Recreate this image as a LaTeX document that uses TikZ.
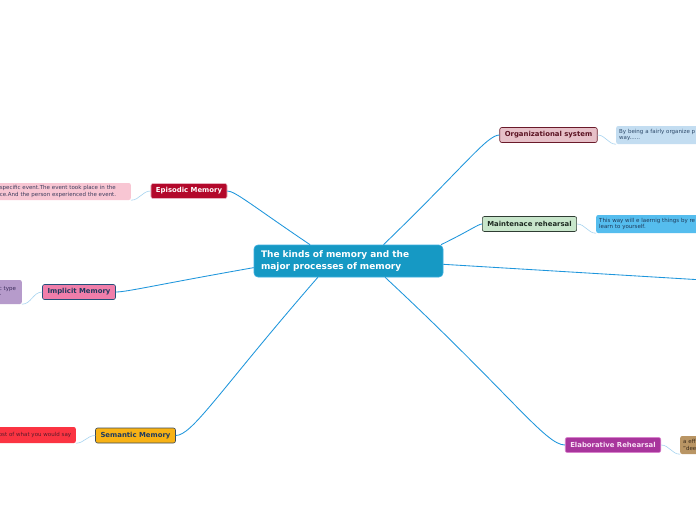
\documentclass[tikz,border=0pt]{standalone}
\usepackage{fontspec}
\setmainfont{DejaVu Sans}
\usetikzlibrary{positioning}
\definecolor{rootblue}{HTML}{1699C4}
\definecolor{rootedge}{HTML}{3AAEE0}
\definecolor{branchblue}{HTML}{1E96DC}
\definecolor{twigblue}{HTML}{A8D4F0}
\definecolor{epired}{HTML}{B3082B}
\definecolor{epiedge}{HTML}{E8B0BE}
\definecolor{implpink}{HTML}{F07EAA}
\definecolor{impledge}{HTML}{24507A}
\definecolor{impltext}{HTML}{1F3A5F}
\definecolor{semorange}{HTML}{F8B215}
\definecolor{semedge}{HTML}{3C4A58}
\definecolor{orgpink}{HTML}{E6C0C8}
\definecolor{orgedge}{HTML}{6A1A2A}
\definecolor{orgtext}{HTML}{5A1222}
\definecolor{maintgreen}{HTML}{C8E6CB}
\definecolor{maintedge}{HTML}{2F3D33}
\definecolor{mainttext}{HTML}{1E2A22}
\definecolor{elabpurple}{HTML}{A8359C}
\definecolor{elabedge}{HTML}{D882CC}
\definecolor{elabtext}{HTML}{F8E0F4}
\definecolor{epinotefill}{HTML}{F8C6D3}
\definecolor{epinotetext}{HTML}{3C3C5C}
\definecolor{implnotefill}{HTML}{B69BCB}
\definecolor{implnotetext}{HTML}{3A2A5A}
\definecolor{semnotefill}{HTML}{FB3442}
\definecolor{semnotetext}{HTML}{5A1A2A}
\definecolor{orgnotefill}{HTML}{C3DDF1}
\definecolor{orgnotetext}{HTML}{2E4A6A}
\definecolor{maintnotefill}{HTML}{55BDEE}
\definecolor{maintnotetext}{HTML}{1E3A5A}
\definecolor{elabnotefill}{HTML}{B99564}
\definecolor{elabnotetext}{HTML}{3A2A1A}

\begin{document}
\begin{tikzpicture}[x=1pt,y=1pt,
  root/.style={fill=rootblue,draw=rootedge,line width=0.6pt,rounded corners=4pt,
    text=white,font=\fontsize{9}{12}\selectfont\bfseries,align=left,
    text width=175pt,inner xsep=7pt,minimum height=32pt},
  topic/.style={draw,line width=0.6pt,rounded corners=2pt,
    font=\fontsize{6.9}{8}\selectfont\bfseries,inner xsep=5pt,inner ysep=0pt,
    minimum height=15pt},
  note/.style={rounded corners=2pt,font=\fontsize{5.5}{6.8}\selectfont,align=left,
    inner xsep=3pt,inner ysep=2pt,text width=150pt,minimum height=18pt},
  branch/.style={draw=branchblue,line width=0.85pt,out looseness=1.8,in looseness=0.2},
  twig/.style={draw=twigblue,line width=0.6pt}]
\useasboundingbox (0,0) rectangle (696,-520);
\fill[white] (0,0) rectangle (696,-520);
% ---------- centre ----------
\node[root] (root) at (348.5,-261) {The kinds of memory and the\\major processes of memory};
% ---------- left branches ----------
\node[topic,fill=epired,draw=epiedge,text=white] (epi) at (189,-191) {Episodic Memory};
\node[topic,fill=implpink,draw=impledge,text=impltext] (impl) at (79,-292) {Implicit Memory};
\node[topic,fill=semorange,draw=semedge,text=impltext] (sem) at (135.5,-435.5) {Semantic Memory};
\node[note,fill=epinotefill,text=epinotetext,anchor=east,text width=128pt,minimum height=17pt]
  (epinote) at (131,-191.5) {specific event.The event took place in the\\ce.And the person experienced the event.};
\node[note,fill=implnotefill,text=implnotetext,anchor=east,text width=20pt,minimum height=24pt]
  (implnote) at (22,-292) {c type\\r};
\node[note,fill=semnotefill,text=semnotetext,anchor=east,text width=74pt,minimum height=16pt]
  (semnote) at (76,-435) {ost of what you would say};
% ---------- right branches ----------
\node[topic,fill=orgpink,draw=orgedge,text=orgtext] (org) at (548.5,-135) {Organizational system};
\node[topic,fill=maintgreen,draw=maintedge,text=mainttext] (maint) at (529.5,-224) {Maintenace rehearsal};
\node[topic,fill=elabpurple,draw=elabedge,text=elabtext] (elab) at (613,-445) {Elaborative Rehearsal};
\node[note,fill=orgnotefill,text=orgnotetext,anchor=west] (orgnote) at (616,-135)
  {By being a fairly organize p\\way......};
\node[note,fill=maintnotefill,text=maintnotetext,anchor=west] (maintnote) at (596,-224)
  {This way will e laernig things by re\\learn to yourself.};
\node[note,fill=elabnotefill,text=elabnotetext,anchor=west] (elabnote) at (680,-445)
  {a eff\\"dee};
\coordinate (offright) at (720,-281);
% ---------- connectors ----------
\draw[branch] (root.157) to[out=146,in=0] (epi.east);
\draw[branch] (root.184) to[out=190,in=0] (impl.east);
\draw[branch] (root.208) to[out=229,in=0] (sem.east);
\draw[branch] (root.25) to[out=44,in=180] (org.west);
\draw[branch] (root.10) to[out=26,in=180] (maint.west);
\draw[branch] (root.336) to[out=-43,in=180] (elab.west);
\draw[branch] (root.358) -- (offright);
\draw[twig] (epi.west) to[out=180,in=0] (epinote.south east);
\draw[twig] (impl.west) to[out=180,in=0] (implnote.south east);
\draw[twig] (sem.west) to[out=180,in=0] (semnote.south east);
\draw[twig] (org.east) to[out=0,in=180] (orgnote.south west);
\draw[twig] (maint.east) to[out=0,in=180] (maintnote.south west);
\draw[twig] (elab.east) to[out=0,in=180] (elabnote.south west);
\end{tikzpicture}
\end{document}
